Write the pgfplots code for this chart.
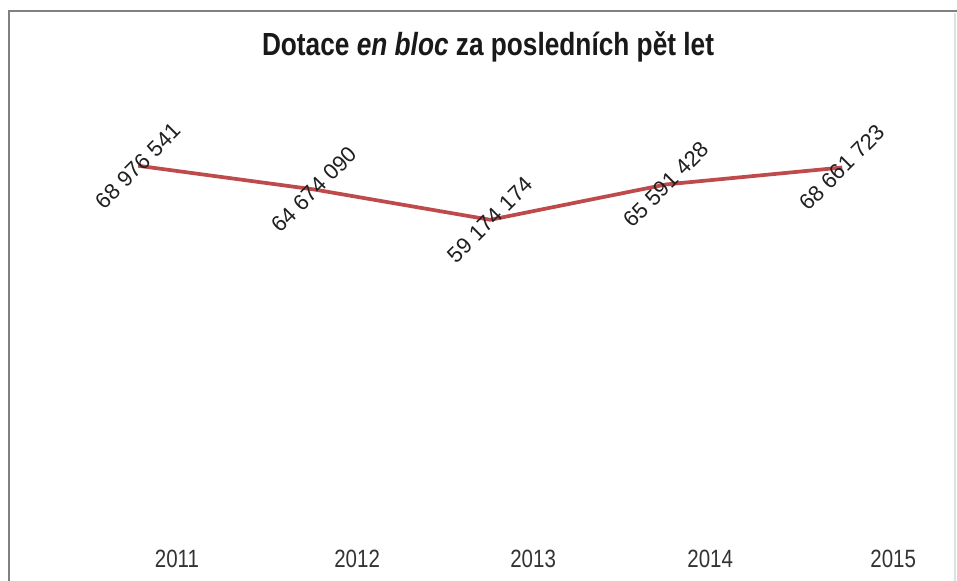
\documentclass[border=0pt]{standalone}
\usepackage{pgfplots}
\pgfplotsset{compat=1.18}
\usepackage{fontspec}
\setmainfont{Liberation Sans}
\newfontfamily\narrowfont[FakeStretch=0.82]{Liberation Sans}
\definecolor{linered}{RGB}{190,74,76}
\definecolor{framegray}{RGB}{128,128,128}
\begin{document}
\begin{tikzpicture}
\useasboundingbox (0pt,0pt) rectangle (717.75pt,435.75pt);
\fill[white] (0pt,0pt) rectangle (717.75pt,435.75pt);
\draw[framegray, line width=1.5pt] (6.75pt,-20pt) -- (6.75pt,427.5pt) -- (730pt,427.5pt);
\draw[black!12, line width=0.8pt] (716.25pt,-20pt) -- (716.25pt,426pt);
\node[font=\narrowfont\bfseries\fontsize{24}{28}\selectfont, text=black!90] at (366pt,400.5pt) {Dotace \textit{en bloc} za posledních pět let};
\begin{axis}[
  at={(11.25pt,26.25pt)}, anchor=south west,
  scale only axis,
  width=699.6pt, height=330.75pt,
  xmin=-0.7, xmax=4.6,
  ymin=0, ymax=80000000,
  axis line style={draw=none},
  major tick length=0pt,
  ytick=\empty,
  xtick={0.22,1.244,2.244,3.25,4.29},
  xticklabels={2011,2012,2013,2014,2015},
  xticklabel style={anchor=base, inner sep=0pt, font=\narrowfont\fontsize{18.75}{22}\selectfont, text=black!80},
  xticklabel shift=16.5pt,
  clip=false,
  nodes near coords,
  point meta=explicit symbolic,
  nodes near coords style={anchor=center, rotate=45, font=\fontsize{16.5}{19}\selectfont, text=black!88},
]
\addplot[linered, line width=2.8pt, mark=none] coordinates {
  (0,68976541) [68 976 541]
  (1,64674090) [64 674 090]
  (2,59174174) [59 174 174]
  (3,65591428) [65 591 428]
  (4,68661723) [68 661 723]
};
\end{axis}
\end{tikzpicture}
\end{document}
